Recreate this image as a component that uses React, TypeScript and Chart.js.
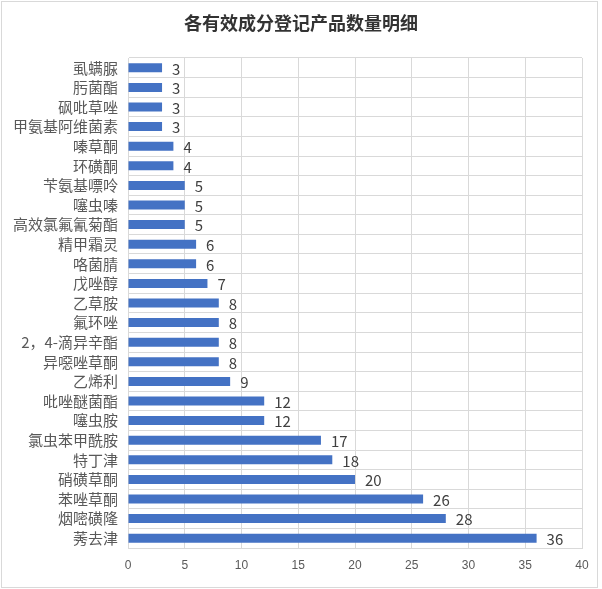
import React, { useEffect, useRef } from "react";
import { Chart, registerables } from "chart.js";

Chart.register(...registerables);

const TITLE = "各有效成分登记产品数量明细";
const categories = [
  "虱螨脲", "肟菌酯", "砜吡草唑", "甲氨基阿维菌素", "嗪草酮", "环磺酮", "苄氨基嘌呤",
  "噻虫嗪", "高效氯氟氰菊酯", "精甲霜灵", "咯菌腈", "戊唑醇", "乙草胺", "氟环唑",
  "2，4-滴异辛酯", "异噁唑草酮", "乙烯利", "吡唑醚菌酯", "噻虫胺", "氯虫苯甲酰胺",
  "特丁津", "硝磺草酮", "苯唑草酮", "烟嘧磺隆", "莠去津",
];
const counts = [3, 3, 3, 3, 4, 4, 5, 5, 5, 6, 6, 7, 8, 8, 8, 8, 9, 12, 12, 17, 18, 20, 26, 28, 36];
const xTicksMax = 40;
const xTickStep = 5;

const CJK = '"Noto Sans CJK SC", "Noto Sans", sans-serif';

const decorPlugin = {
  id: "decor",
  beforeDraw(chart: any) {
    const ctx = chart.ctx;
    ctx.save();
    ctx.fillStyle = "#ffffff";
    ctx.fillRect(0, 0, chart.width, chart.height);
    ctx.strokeStyle = "#d9d9d9";
    ctx.lineWidth = 1;
    ctx.strokeRect(1.5, 1.5, 596, 586);
    ctx.fillStyle = "#333333";
    ctx.font = `bold 18px ${CJK}`;
    ctx.textAlign = "center";
    ctx.textBaseline = "middle";
    ctx.fillText(TITLE, 301, 23);
    ctx.restore();
  },
  afterDatasetsDraw(chart: any) {
    const ctx = chart.ctx;
    const meta = chart.getDatasetMeta(0);
    ctx.save();
    ctx.fillStyle = "#404040";
    ctx.font = `15px ${CJK}`;
    ctx.textAlign = "left";
    ctx.textBaseline = "middle";
    meta.data.forEach((bar: any, i: number) => {
      ctx.fillText(String(counts[i]), bar.x + 10, bar.y + 1);
    });
    ctx.restore();
  },
};

export default function App() {
  const ref = useRef<HTMLCanvasElement | null>(null);
  useEffect(() => {
    if (!ref.current) return;
    const chart = new Chart(ref.current, {
      type: "bar",
      data: {
        labels: categories,
        datasets: [
          {
            data: counts,
            backgroundColor: "#4472C4",
            barPercentage: 0.46,
            categoryPercentage: 1,
          },
        ],
      },
      options: {
        indexAxis: "y",
        animation: false,
        responsive: false,
        maintainAspectRatio: false,
        layout: { padding: { left: 0, right: 20, top: 58, bottom: 11 } },
        plugins: {
          legend: { display: false },
          title: { display: false },
          tooltip: { enabled: false },
        },
        scales: {
          x: {
            min: 0,
            max: xTicksMax,
            ticks: {
              stepSize: xTickStep,
              color: "#595959",
              font: { size: 12, family: '"Liberation Sans", sans-serif' },
              padding: 10,
            },
            grid: { color: "#d9d9d9", drawTicks: false },
            border: { color: "#d9d9d9" },
            afterFit(scale: any) {
              scale.height = 30;
            },
          },
          y: {
            ticks: {
              color: "#595959",
              font: { size: 15, family: CJK },
              padding: 10,
              autoSkip: false,
            },
            grid: { color: "#d9d9d9", drawTicks: false },
            border: { color: "#d9d9d9" },
            afterFit(scale: any) {
              scale.width = 128;
            },
          },
        },
      },
      plugins: [decorPlugin],
    });
    return () => chart.destroy();
  }, []);
  return (
    <div style={{ position: "fixed", left: 0, top: 0, width: 602, height: 589, background: "#fff" }}>
      <canvas ref={ref} width={602} height={589} style={{ width: 602, height: 589, display: "block" }} />
    </div>
  );
}
